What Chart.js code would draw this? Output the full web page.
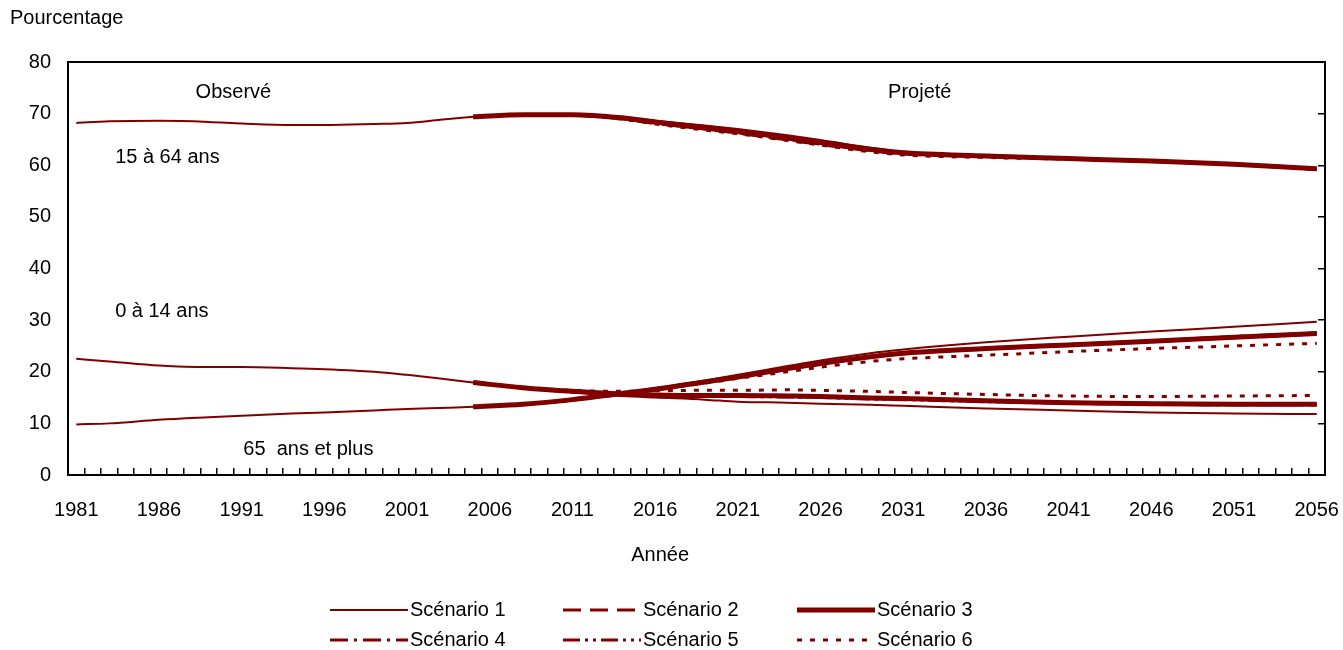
<!DOCTYPE html>
<html lang="fr">
<head>
<meta charset="utf-8">
<title>Population par groupe d'âge</title>
<script src="https://cdn.jsdelivr.net/npm/chart.js@4.4.1/dist/chart.umd.min.js"></script>
<style>
  body { margin: 0; background: #fff; }
  #wrap { width: 1343px; height: 650px; }
</style>
</head>
<body>
<div id="wrap"><canvas id="myLineChart"></canvas></div>
<script>
// Start Data

// x axis categories, one per year
const years = [];
for (let y = 1981; y <= 2056; y++) years.push(String(y));

// Observed
const obsYears = [1981, 1983, 1986, 1989, 1991, 1994, 1996, 1999, 2001, 2003, 2005];
const obs0_14  = [22.5, 22.0, 21.2, 20.9, 20.9, 20.7, 20.5, 20.0, 19.4, 18.7, 17.9];
const obs15_64 = [68.2, 68.5, 68.6, 68.4, 68.1, 67.8, 67.8, 68.0, 68.2, 68.8, 69.4];
const obs65    = [9.8, 10.0, 10.7, 11.2, 11.5, 11.9, 12.1, 12.5, 12.8, 13.0, 13.2];

// Projected
const projYears = [2005, 2008, 2011, 2014, 2016, 2019, 2021, 2024, 2026, 2029, 2031, 2036, 2041, 2046, 2051, 2056];

const s1_0_14  = [17.9, 16.8, 16.0, 15.3, 15.0, 14.6, 14.2, 14.0, 13.8, 13.6, 13.4, 12.9, 12.5, 12.1, 11.9, 11.8];
const s1_15_64 = [69.4, 69.8, 69.8, 69.3, 68.6, 67.7, 67.0, 65.8, 64.9, 63.4, 62.6, 61.9, 61.4, 60.8, 60.2, 59.3];
const s1_65    = [13.2, 13.7, 14.6, 15.9, 16.8, 18.3, 19.4, 21.1, 22.2, 23.6, 24.3, 25.7, 26.8, 27.8, 28.7, 29.7];

const s2_0_14  = [17.9, 16.9, 16.2, 15.6, 15.4, 15.3, 15.3, 15.2, 15.1, 14.8, 14.7, 14.3, 13.9, 13.7, 13.6, 13.6];
const s2_15_64 = [69.4, 69.8, 69.7, 69.0, 68.1, 67.0, 66.2, 64.9, 64.0, 62.8, 62.2, 61.7, 61.3, 60.8, 60.2, 59.3];
const s2_65    = [13.2, 13.7, 14.6, 15.8, 16.7, 18.1, 19.1, 20.7, 21.7, 23.0, 23.7, 24.6, 25.3, 26.0, 26.8, 27.5];

const s3_0_14  = [17.9, 16.9, 16.2, 15.7, 15.5, 15.4, 15.4, 15.3, 15.2, 14.9, 14.8, 14.4, 14.0, 13.8, 13.7, 13.7];
const s3_15_64 = [69.4, 69.8, 69.8, 69.2, 68.4, 67.3, 66.6, 65.3, 64.4, 63.1, 62.4, 61.8, 61.3, 60.8, 60.2, 59.3];
const s3_65    = [13.2, 13.7, 14.6, 15.8, 16.6, 18.0, 19.0, 20.6, 21.6, 22.9, 23.6, 24.5, 25.2, 25.9, 26.7, 27.4];

const s4_0_14  = [17.9, 16.9, 16.2, 15.7, 15.5, 15.4, 15.4, 15.3, 15.2, 14.9, 14.8, 14.4, 14.1, 13.9, 13.8, 13.8];
const s4_15_64 = [69.4, 69.8, 69.7, 69.0, 68.2, 67.0, 66.3, 65.0, 64.1, 62.9, 62.3, 61.7, 61.3, 60.8, 60.2, 59.2];
const s4_65    = [13.2, 13.7, 14.5, 15.7, 16.5, 17.9, 18.9, 20.5, 21.5, 22.8, 23.5, 24.4, 25.1, 25.8, 26.6, 27.3];

const s5_0_14  = [17.9, 16.9, 16.1, 15.6, 15.4, 15.3, 15.2, 15.1, 15.0, 14.7, 14.6, 14.2, 13.9, 13.7, 13.6, 13.6];
const s5_15_64 = [69.4, 69.8, 69.7, 69.1, 68.2, 67.1, 66.4, 65.1, 64.2, 62.9, 62.3, 61.7, 61.2, 60.7, 60.1, 59.2];
const s5_65    = [13.2, 13.7, 14.6, 15.8, 16.6, 18.0, 19.0, 20.6, 21.6, 22.9, 23.6, 24.5, 25.2, 26.0, 26.8, 27.5];

const s6_0_14  = [17.9, 17.0, 16.4, 16.2, 16.3, 16.4, 16.4, 16.5, 16.4, 16.2, 16.0, 15.6, 15.3, 15.2, 15.3, 15.4];
const s6_15_64 = [69.4, 69.8, 69.7, 68.9, 68.0, 66.8, 66.1, 64.8, 63.9, 62.6, 62.0, 61.5, 61.2, 60.8, 60.3, 59.4];
const s6_65    = [13.2, 13.7, 14.5, 15.7, 16.5, 17.8, 18.7, 20.0, 20.9, 22.0, 22.5, 23.2, 23.9, 24.5, 25.0, 25.5];

const scenarioLabels = ["Scénario 1", "Scénario 2", "Scénario 3", "Scénario 4", "Scénario 5", "Scénario 6"];
const scenarioSeries = [
  [s1_0_14, s1_15_64, s1_65],
  [s2_0_14, s2_15_64, s2_65],
  [s3_0_14, s3_15_64, s3_65],
  [s4_0_14, s4_15_64, s4_65],
  [s5_0_14, s5_15_64, s5_65],
  [s6_0_14, s6_15_64, s6_65],
];

// End Data

const RED = "#800000";
const FONT = "'Liberation Sans', Arial, sans-serif";
const lineStyles = [
  { width: 2, dash: [] },
  { width: 3, dash: [18, 9] },
  { width: 5, dash: [] },
  { width: 3, dash: [18, 6, 3, 6] },
  { width: 3, dash: [17, 5, 3, 5, 3, 5] },
  { width: 3, dash: [5, 8] },
];

Chart.defaults.font.family = FONT;
Chart.defaults.font.size = 20;
Chart.defaults.color = "#000";

function toPoints(yrs, vals) {
  return yrs.map((y, i) => ({ x: String(y), y: vals[i] }));
}

function lineSet(label, data, style) {
  return {
    label: label,
    data: data,
    borderColor: RED,
    borderWidth: style.width,
    borderDash: style.dash,
    borderCapStyle: "butt",
    pointRadius: 0,
    pointHoverRadius: 0,
    fill: false,
    spanGaps: true,
    cubicInterpolationMode: "monotone",
    yAxisID: "y",
  };
}

// Start Line Chart
const datasets = [];
[obs0_14, obs15_64, obs65].forEach((vals) => {
  datasets.push(lineSet("Observé", toPoints(obsYears, vals), lineStyles[0]));
});
// scenario 3 (thick) goes last so it is painted underneath the others
[0, 1, 3, 4, 5, 2].forEach((s) => {
  scenarioSeries[s].forEach((vals) => {
    datasets.push(lineSet(scenarioLabels[s], toPoints(projYears, vals), lineStyles[s]));
  });
});

const notes = [
  { text: "Observé", at: 9.5, value: 74, align: "center" },
  { text: "Projeté", at: 51, value: 74, align: "center" },
  { text: "15 à 64 ans", at: 2.35, value: 61.6, align: "left" },
  { text: "0 à 14 ans", at: 2.35, value: 31.6, align: "left" },
  { text: "65  ans et plus", at: 10.1, value: 5.0, align: "left" },
];

const extras = {
  id: "extras",
  beforeDatasetsDraw(chart) {
    const { ctx, chartArea: a } = chart;
    ctx.save();
    ctx.strokeStyle = "#000";
    ctx.lineWidth = 2;
    ctx.strokeRect(a.left, a.top, a.right - a.left, a.bottom - a.top);
    ctx.restore();
  },
  afterDraw(chart) {
    const { ctx, chartArea: a } = chart;
    const xs = chart.scales.x, ys = chart.scales.y;
    ctx.save();
    ctx.font = "20px " + FONT;
    ctx.fillStyle = "#000";
    ctx.textBaseline = "middle";
    notes.forEach((n) => {
      ctx.textAlign = n.align;
      ctx.fillText(n.text, xs.getPixelForValue(n.at), ys.getPixelForValue(n.value));
    });
    // x axis title
    ctx.textAlign = "center";
    ctx.fillText("Année", xs.getPixelForValue(35.3), a.bottom + 80);

    // legend, 3 columns x 2 rows
    const colX = [330, 563, 797];
    const rowY = [610, 640];
    ctx.textAlign = "left";
    scenarioLabels.forEach((label, i) => {
      const x = colX[i % 3], y = rowY[Math.floor(i / 3)];
      const st = lineStyles[i];
      ctx.strokeStyle = RED;
      ctx.lineWidth = st.width;
      ctx.lineCap = "butt";
      ctx.setLineDash(st.dash);
      ctx.beginPath();
      ctx.moveTo(x, y);
      ctx.lineTo(x + 78, y);
      ctx.stroke();
      ctx.setLineDash([]);
      ctx.fillText(label, x + 80, y);
    });
    ctx.restore();
  },
};

const line_ctx = document.getElementById("myLineChart");

const lineChart = new Chart(line_ctx, {
  type: "line",
  data: { labels: years, datasets: datasets },
  options: {
    responsive: true,
    maintainAspectRatio: false,
    animation: false,
    events: [],
    layout: { padding: { left: 10, right: 0, top: 0, bottom: 0 } },
    scales: {
      x: {
        offset: true,
        border: { display: false },
        grid: {
          display: true,
          drawOnChartArea: false,
          drawTicks: true,
          tickLength: -7, // ticks point inside the plot
          offset: true,
          color: "#000",
          lineWidth: 1.5,
        },
        ticks: {
          autoSkip: false,
          maxRotation: 0,
          padding: 30,
          callback: function (val, index) {
            return index % 5 === 0 ? this.getLabelForValue(val) : "";
          },
        },
        afterFit: (scale) => {
          scale.height = 175;
          // let the end labels hang over the plot edges
          scale.paddingLeft = 0;
          scale.paddingRight = 0;
        },
      },
      y: {
        min: 0,
        max: 80,
        border: { display: false },
        grid: { display: false, drawTicks: false },
        ticks: { stepSize: 10, padding: 17 },
        afterFit: (scale) => { scale.width = 58; },
      },
      yRight: {
        position: "right",
        min: 0,
        max: 80,
        border: { display: false },
        grid: {
          drawOnChartArea: false,
          drawTicks: true,
          tickLength: -7,
          color: "#000",
          lineWidth: 1.5,
        },
        ticks: { display: false, stepSize: 10 },
        afterFit: (scale) => { scale.width = 18; },
      },
    },
    plugins: {
      legend: { display: false },
      tooltip: { enabled: false },
      title: {
        display: true,
        text: "Pourcentage",
        align: "start",
        color: "#000",
        font: { size: 20, weight: "normal" },
        padding: { top: 6, bottom: 32 },
      },
    },
  },
  plugins: [extras],
});
// End Line Chart
</script>
</body>
</html>
